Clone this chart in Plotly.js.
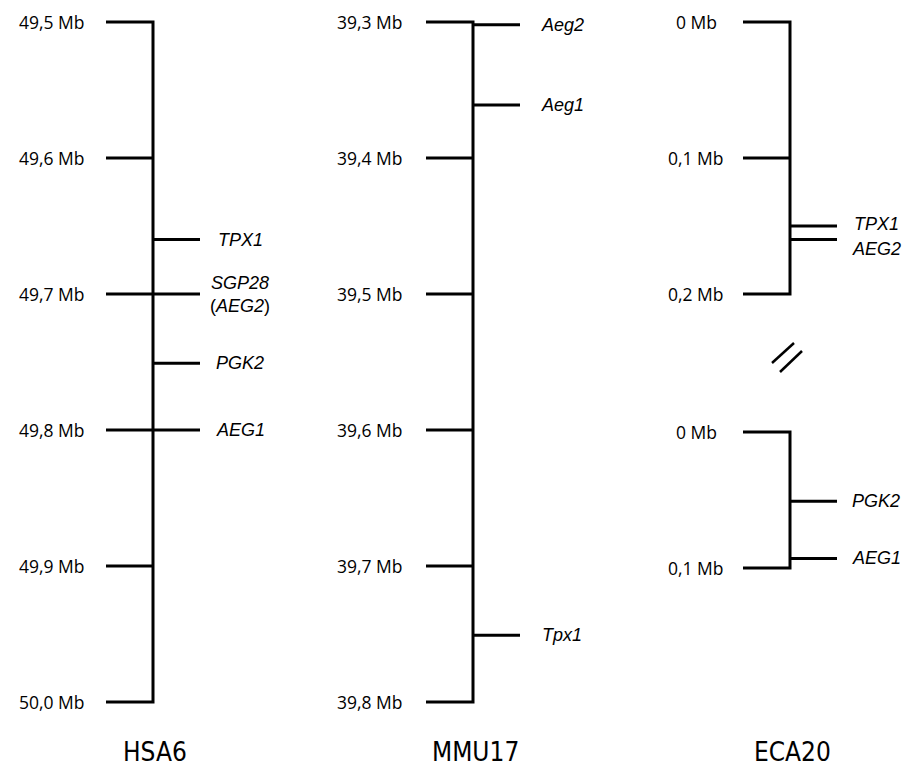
<!DOCTYPE html>
<html>
<head>
<meta charset="utf-8">
<script src="https://cdn.plot.ly/plotly-3.0.1.min.js"></script>
<style>html,body{margin:0;padding:0;background:#fff;}#chart{width:907px;height:777px;}</style>
</head>
<body>
<div id="chart"></div>
<script>
// ---------------- data ----------------
const chromosomes = ['HSA6', 'MMU17', 'ECA20'];

const hsa6Ticks = [49.5, 49.6, 49.7, 49.8, 49.9, 50.0];
const hsa6TickLabels = ['49,5 Mb', '49,6 Mb', '49,7 Mb', '49,8 Mb', '49,9 Mb', '50,0 Mb'];
const hsa6Genes = ['<i>TPX1</i>', '<i>SGP28</i><br>(<i>AEG2</i>)', '<i>PGK2</i>', '<i>AEG1</i>'];
const hsa6GenePos = [49.66, 49.70, 49.751, 49.80];

const mmu17Ticks = [39.3, 39.4, 39.5, 39.6, 39.7, 39.8];
const mmu17TickLabels = ['39,3 Mb', '39,4 Mb', '39,5 Mb', '39,6 Mb', '39,7 Mb', '39,8 Mb'];
const mmu17Genes = ['<i>Aeg2</i>', '<i>Aeg1</i>', '<i>Tpx1</i>'];
const mmu17GenePos = [39.302, 39.361, 39.751];

const eca20aTicks = [0, 0.1, 0.2];
const eca20aTickLabels = ['0 Mb', '0,1 Mb', '0,2 Mb'];
const eca20aGenes = ['<i>TPX1</i>', '<i>AEG2</i>'];
const eca20aGenePos = [0.150, 0.160];

const eca20bTicks = [0, 0.1];
const eca20bTickLabels = ['0 Mb', '0,1 Mb'];
const eca20bGenes = ['<i>PGK2</i>', '<i>AEG1</i>'];
const eca20bGenePos = [0.051, 0.093];

// ---------------- layout constants ----------------
const W = 907, H = 777;
const PX_PER_MB = 1360;
const TICK_LEN = 47, GENE_LEN = 47;

const panels = [
  {axis: 'y',  cx: 153, top: 22,  ticks: hsa6Ticks,   labels: hsa6TickLabels,   genes: hsa6Genes,   pos: hsa6GenePos,   tlx: 52,  glx: 240, shift: [0, 0, 0, 0], title: 0},
  {axis: 'y2', cx: 473, top: 22,  ticks: mmu17Ticks,  labels: mmu17TickLabels,  genes: mmu17Genes,  pos: mmu17GenePos,  tlx: 370, glx: 562, shift: [0, 0, 0], title: 1},
  {axis: 'y3', cx: 790, top: 22,  ticks: eca20aTicks, labels: eca20aTickLabels, genes: eca20aGenes, pos: eca20aGenePos, tlx: 696, glx: 876, shift: [2, -9], title: 2},
  {axis: 'y4', cx: 790, top: 432, ticks: eca20bTicks, labels: eca20bTickLabels, genes: eca20bGenes, pos: eca20bGenePos, tlx: 696, glx: 876, shift: [0, 0], title: -1}
];

const lineStyle = {color: '#000', width: 3};
const traces = [];
const annotations = [];

panels.forEach(p => {
  const first = p.ticks[0], last = p.ticks[p.ticks.length - 1];
  // bracket: first tick, vertical line, last tick
  traces.push({
    type: 'scatter', mode: 'lines', yaxis: p.axis, xaxis: 'x',
    x: [p.cx - TICK_LEN, p.cx, p.cx, p.cx - TICK_LEN],
    y: [first, first, last, last],
    line: lineStyle, hoverinfo: 'skip'
  });
  // interior ticks
  const tx = [], ty = [];
  p.ticks.slice(1, -1).forEach(v => { tx.push(p.cx - TICK_LEN, p.cx, null); ty.push(v, v, null); });
  if (tx.length) traces.push({type: 'scatter', mode: 'lines', yaxis: p.axis, xaxis: 'x', x: tx, y: ty, line: lineStyle, hoverinfo: 'skip'});
  // gene lines
  const gx = [], gy = [];
  p.pos.forEach(v => { gx.push(p.cx, p.cx + GENE_LEN, null); gy.push(v, v, null); });
  traces.push({type: 'scatter', mode: 'lines', yaxis: p.axis, xaxis: 'x', x: gx, y: gy, line: lineStyle, hoverinfo: 'skip'});

  // tick labels
  p.ticks.forEach((v, i) => {
    annotations.push({
      xref: 'x', yref: p.axis, x: p.tlx, y: v, text: p.labels[i], showarrow: false,
      xanchor: 'center', yanchor: 'middle',
      font: {family: 'Open Sans, sans-serif', size: 17.5, color: '#000'}
    });
  });
  // gene labels
  p.genes.forEach((g, i) => {
    annotations.push({
      xref: 'x', yref: p.axis, x: p.glx, y: p.pos[i], text: g, showarrow: false,
      xanchor: 'center', yanchor: 'middle', yshift: p.shift[i] || 0,
      font: {family: 'Liberation Sans, Arial, sans-serif', size: 18, color: '#000'}
    });
  });
  // chromosome title
  if (p.title >= 0) {
    annotations.push({
      xref: 'x', yref: 'paper', x: p.cx + 2, y: 1 - 752 / H, text: chromosomes[p.title], showarrow: false,
      xanchor: 'center', yanchor: 'middle',
      font: {family: 'Liberation Sans Narrow, DejaVu Sans Condensed, sans-serif', size: 26, color: '#000'}
    });
  }
});

function yRange(v0, p0) { return [v0 + (H - p0) / PX_PER_MB, v0 - p0 / PX_PER_MB]; }

const hiddenAxis = {visible: false, showgrid: false, zeroline: false, fixedrange: true};
const layout = {
  width: W, height: H,
  margin: {l: 0, r: 0, t: 0, b: 0, pad: 0},
  paper_bgcolor: '#fff', plot_bgcolor: '#fff',
  showlegend: false, hovermode: false,
  xaxis: Object.assign({range: [0, W]}, hiddenAxis),
  yaxis:  Object.assign({range: yRange(panels[0].ticks[0], panels[0].top)}, hiddenAxis),
  yaxis2: Object.assign({range: yRange(panels[1].ticks[0], panels[1].top), overlaying: 'y'}, hiddenAxis),
  yaxis3: Object.assign({range: yRange(panels[2].ticks[0], panels[2].top), overlaying: 'y'}, hiddenAxis),
  yaxis4: Object.assign({range: yRange(panels[3].ticks[0], panels[3].top), overlaying: 'y'}, hiddenAxis),
  annotations: annotations,
  shapes: [
    {type: 'line', xref: 'x', yref: 'paper', x0: 772, x1: 794, y0: 1 - 363 / H, y1: 1 - 343 / H, line: {color: '#000', width: 2.5}},
    {type: 'line', xref: 'x', yref: 'paper', x0: 780, x1: 802, y0: 1 - 372 / H, y1: 1 - 351 / H, line: {color: '#000', width: 2.5}}
  ]
};

Plotly.newPlot('chart', traces, layout, {displayModeBar: false, staticPlot: true});
</script>
</body>
</html>
